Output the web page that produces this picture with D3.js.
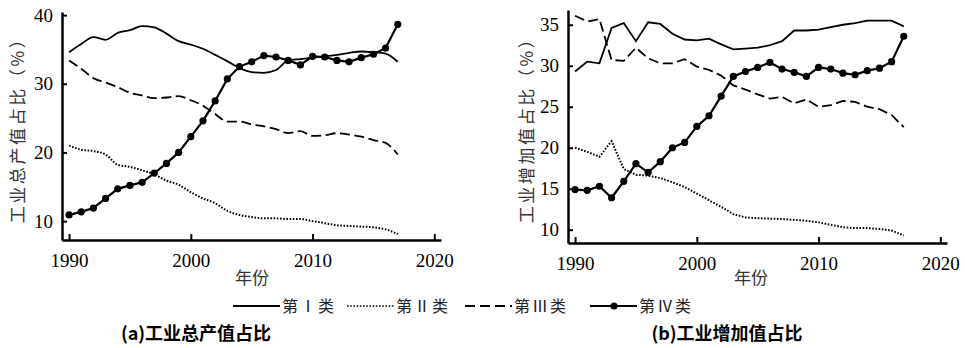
<!DOCTYPE html>
<html>
<head>
<meta charset="utf-8">
<script src="https://cdn.jsdelivr.net/npm/d3@7"></script>
<style>
  body { margin: 0; background: #fff; }
  svg { display: block; }
  .tk text { font-family: "Liberation Serif", "DejaVu Serif", serif; font-size: 19px; fill: #000; }
</style>
</head>
<body>
<div id="chart"></div>
<script>
var years = [1990,1991,1992,1993,1994,1995,1996,1997,1998,1999,2000,2001,2002,2003,
             2004,2005,2006,2007,2008,2009,2010,2011,2012,2013,2014,2015,2016,2017];

// (a) 工业总产值占比
var a_cat1 = [34.6,35.8,36.8,36.4,37.4,37.8,38.4,38.2,37.3,36.2,35.7,35.1,34.2,33.3,
              32.3,31.7,31.6,32.0,33.4,33.6,33.8,34.0,34.2,34.5,34.7,34.6,34.4,33.2];
var a_cat2 = [21.0,20.4,20.2,19.7,18.2,17.9,17.4,16.8,15.9,15.3,14.2,13.3,12.6,11.5,
              10.9,10.6,10.4,10.4,10.3,10.3,10.0,9.7,9.4,9.3,9.2,9.1,8.8,8.1];
var a_cat3 = [33.4,32.2,30.8,30.2,29.5,28.7,28.3,27.9,28.0,28.2,27.6,26.8,25.6,24.5,
              24.5,24.1,23.8,23.4,22.8,23.1,22.4,22.5,22.8,22.6,22.3,21.8,21.4,19.7];
var a_cat4 = [10.9,11.35,11.9,13.3,14.7,15.2,15.65,17.0,18.4,20.0,22.3,24.6,27.5,30.7,
              32.5,33.2,34.1,33.9,33.4,32.75,34.0,33.9,33.4,33.2,33.8,34.3,35.2,38.65];

// (b) 工业增加值占比
var b_cat1 = [29.3,30.5,30.3,34.6,35.2,33.0,35.3,35.1,33.9,33.2,33.1,33.3,32.6,32.0,
              32.1,32.2,32.5,33.0,34.3,34.3,34.4,34.7,35.0,35.2,35.5,35.5,35.5,34.8];
var b_cat2 = [20.0,19.5,18.9,20.8,17.4,16.7,16.6,16.3,15.8,15.2,14.4,13.6,12.8,11.9,
              11.5,11.4,11.35,11.3,11.2,11.1,10.9,10.6,10.3,10.2,10.2,10.1,9.9,9.3];
var b_cat3 = [36.1,35.4,35.7,30.7,30.6,32.2,30.9,30.3,30.3,30.8,29.9,29.5,28.8,27.6,
              27.1,26.5,26.0,26.2,25.4,25.9,25.0,25.2,25.7,25.6,25.0,24.7,24.0,22.5];
var b_cat4 = [14.9,14.8,15.3,13.9,15.9,18.05,17.0,18.3,20.0,20.65,22.6,23.9,26.3,28.7,
              29.3,29.8,30.4,29.6,29.2,28.7,29.8,29.6,29.1,28.9,29.4,29.7,30.5,33.6];

var seriesNames = ["第Ⅰ类", "第Ⅱ类", "第Ⅲ类", "第Ⅳ类"];
var xTicks = [1990, 2000, 2010, 2020];
var aTicks = [10, 20, 30, 40];
var bTicks = [10, 15, 20, 25, 30, 35];

var W = 965, H = 348;
var svg = d3.select("#chart").append("svg")
    .attr("width", W)
    .attr("height", H);

var cjk = "'Noto Sans CJK SC', 'Noto Sans', sans-serif";

var dashes = [null, "1.6,1.6", "10,4.5", null];

var panels = [
  {left: 62, right: 441, top: 12, bottom: 240, xd: [1989.42, 2020.55], yd: [7.25, 40.45],
   ticks: aTicks, data: [a_cat1, a_cat2, a_cat3, a_cat4], ylabel: "工业总产值占比（%）",
   title: "(a)工业总产值占比", titleX: 196, labelX: 18, labelY: 126, xlabX: 252, curve: d3.curveMonotoneX},
  {left: 568, right: 947, top: 10, bottom: 243, xd: [1989.42, 2020.55], yd: [8.38, 36.8],
   ticks: bTicks, data: [b_cat1, b_cat2, b_cat3, b_cat4], ylabel: "工业增加值占比（%）",
   title: "(b)工业增加值占比", titleX: 727, labelX: 527, labelY: 126, xlabX: 751, curve: d3.curveLinear}
];

panels.forEach(function(p){
  var x = d3.scaleLinear().domain(p.xd).range([p.left, p.right]);
  var y = d3.scaleLinear().domain(p.yd).range([p.bottom, p.top]);
  var g = svg.append("g");

  // series
  p.data.forEach(function(vals, si){
    var pts = years.map(function(yr, i){ return [yr, vals[i]]; });
    var line = d3.line()
        .x(function(d){ return x(d[0]); })
        .y(function(d){ return y(d[1]); })
        .curve(si == 3 ? d3.curveLinear : p.curve);
    g.append("path")
      .attr("d", line(pts))
      .attr("fill", "none")
      .attr("stroke", "#000")
      .attr("stroke-width", si == 1 ? 2 : (si == 3 ? 2.2 : 1.8))
      .attr("stroke-dasharray", dashes[si]);
    if (si == 3) {
      g.selectAll("circle.s" + si).data(pts).enter()
        .append("circle")
        .attr("cx", function(d){ return x(d[0]); })
        .attr("cy", function(d){ return y(d[1]); })
        .attr("r", 3.6)
        .attr("fill", "#000");
    }
  });

  // x axis
  var xa = g.append("g")
      .attr("class", "tk")
      .attr("transform", "translate(0," + p.bottom + ")")
      .call(d3.axisBottom(x).tickValues(xTicks).tickFormat(d3.format("d"))
              .tickSizeInner(-6).tickSizeOuter(0).tickPadding(14));
  xa.select(".domain").attr("stroke-width", 2.5);
  xa.selectAll(".tick line").attr("stroke-width", 2);

  // y axis
  var ya = g.append("g")
      .attr("class", "tk")
      .attr("transform", "translate(" + p.left + ",0)")
      .call(d3.axisLeft(y).tickValues(p.ticks)
              .tickSizeInner(-5).tickSizeOuter(0).tickPadding(9));
  ya.select(".domain").attr("stroke-width", 2.5);
  ya.selectAll(".tick line").attr("stroke-width", 2);
  xa.attr("font-family", null).attr("font-size", null);
  ya.attr("font-family", null).attr("font-size", null);

  // y label
  svg.append("text")
    .attr("transform", "translate(" + p.labelX + "," + p.labelY + ") rotate(-90)")
    .attr("text-anchor", "middle")
    .attr("dy", "0.35em")
    .attr("font-family", cjk)
    .attr("font-size", 17)
    .attr("letter-spacing", 2.6)
    .attr("fill", "#333")
    .text(p.ylabel);

  // x label
  svg.append("text")
    .attr("x", p.xlabX)
    .attr("y", 284)
    .attr("text-anchor", "middle")
    .attr("font-family", cjk)
    .attr("font-size", 17)
    .attr("fill", "#333")
    .text("年份");

  // title
  svg.append("text")
    .attr("x", p.titleX)
    .attr("y", 340)
    .attr("text-anchor", "middle")
    .attr("font-family", cjk)
    .attr("font-weight", "bold")
    .attr("font-size", 18)
    .attr("fill", "#000")
    .text(p.title);
});

// legend
var legX = [233, 347, 465, 590];
var leg = svg.append("g").attr("transform", "translate(0,306)");
seriesNames.forEach(function(name, i){
  var lg = leg.append("g").attr("transform", "translate(" + legX[i] + ",0)");
  lg.append("line")
    .attr("x1", 0).attr("x2", 47).attr("y1", 0).attr("y2", 0)
    .attr("stroke", "#000")
    .attr("stroke-width", i == 1 ? 1.6 : 1.8)
    .attr("stroke-dasharray", i == 2 ? "10,5" : dashes[i]);
  if (i == 3) lg.append("circle").attr("cx", 24).attr("cy", 0).attr("r", 3.6).attr("fill", "#000");
  lg.append("text")
    .attr("x", 49).attr("y", 6)
    .attr("font-family", cjk)
    .attr("font-size", 16)
    .attr("letter-spacing", 2)
    .attr("fill", "#222")
    .text(name);
});
</script>
</body>
</html>
